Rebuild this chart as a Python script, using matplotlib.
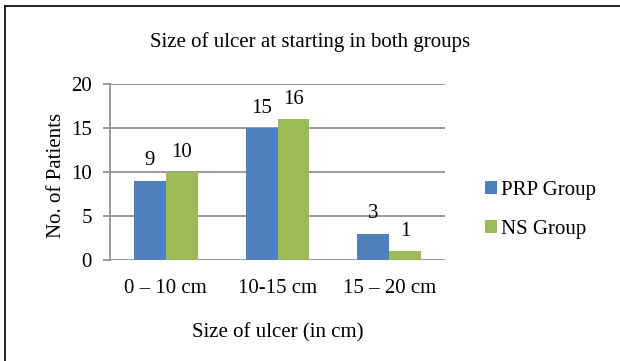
import matplotlib
matplotlib.use("Agg")
import matplotlib.pyplot as plt
import numpy as np

categories = ["0 \u2013 10 cm", "10-15 cm", "15 \u2013 20 cm"]
prp_group = [9, 15, 3]
ns_group = [10, 16, 1]
series_names = ["PRP Group", "NS Group"]

plt.rcParams['font.family'] = ['Liberation Serif', 'DejaVu Serif']
fs = 15

fig = plt.figure(figsize=(6.2, 3.61), dpi=100)
ax = fig.add_axes([110 / 620, 1 - 260 / 361, 335 / 620, 176 / 361])

x = np.arange(len(categories))
w = 0.286
b1 = ax.bar(x - w / 2, prp_group, w, color='#4F81BD', label=series_names[0], zorder=3)
b2 = ax.bar(x + w / 2, ns_group, w, color='#9BBB59', label=series_names[1], zorder=3)
ax.bar_label(b1, padding=7.5, fontsize=fs)
ax.bar_label(b2, padding=7.5, fontsize=fs)

ax.set_xlim(-0.5, 2.5)
ax.set_ylim(0, 20)
ax.set_yticks([0, 5, 10, 15, 20])
ax.set_xticks(x)
ax.set_xticklabels(categories)
ax.yaxis.grid(True, color='#8a8a8a', linewidth=1.2, zorder=0)
for side in ['top', 'right', 'bottom']:
    ax.spines[side].set_visible(False)
ax.spines['left'].set_color('#8a8a8a')
ax.spines['left'].set_linewidth(1.2)
ax.tick_params(axis='y', length=5, width=1.2, color='#8a8a8a', labelsize=fs, pad=8)
ax.tick_params(axis='x', length=0, labelsize=fs, pad=14)

ax.set_ylabel("No. of Patients", fontsize=fs)
ax.yaxis.set_label_coords(-0.13, 0.48)
ax.set_xlabel("Size of ulcer (in cm)", fontsize=fs)
ax.xaxis.set_label_coords(0.5, -0.36)
fig.text(310 / 620, 1 - 42 / 361, "Size of ulcer at starting in both groups",
         ha='center', va='center', fontsize=fs)

ax.legend(loc='center left', bbox_to_anchor=(485 / 620, 1 - 210 / 361),
          bbox_transform=fig.transFigure, frameon=False, borderpad=0,
          borderaxespad=0, fontsize=fs, handlelength=0.58, handleheight=0.55,
          handletextpad=0.2, labelspacing=0.95)

# outer frame, only top and left edges fall inside the canvas
fig.add_artist(plt.Line2D([4.5 / 620, 1.0], [1 - 6 / 361, 1 - 6 / 361],
                          transform=fig.transFigure, color='#111111', linewidth=1.3))
fig.add_artist(plt.Line2D([4.5 / 620, 4.5 / 620], [0, 1 - 6 / 361],
                          transform=fig.transFigure, color='#111111', linewidth=1.3))

fig.savefig("out.png", dpi=100)
